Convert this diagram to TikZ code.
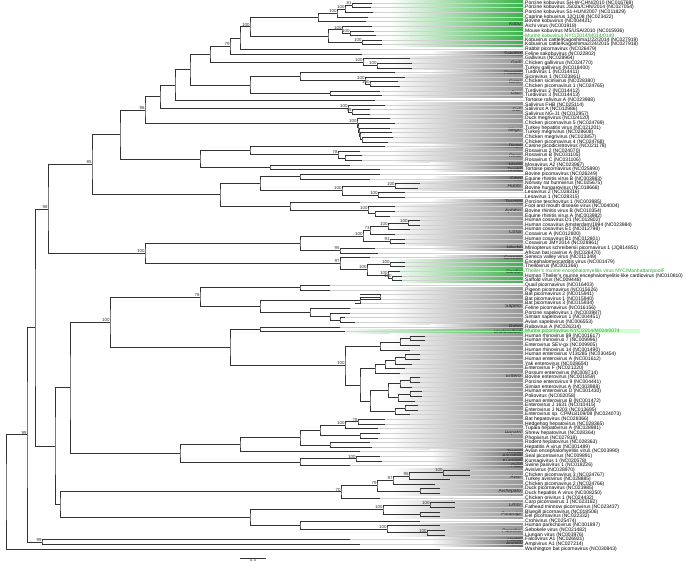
\documentclass[tikz,border=0pt]{standalone}
\usepackage{fontspec}
\setmainfont{Liberation Sans}
\usetikzlibrary{calc}
\definecolor{kobugreen}{RGB}{60,178,74}
\definecolor{labgreen}{RGB}{40,165,40}
\definecolor{bandgray}{RGB}{150,150,150}
\definecolor{bardark}{RGB}{105,105,105}

% clade: [bootstrap]{name}{x}{child a}{child b}
\newcommand\clade[5][]{%
  \path let \p1=($(#4)!.5!(#5)$) in (#3pt,\y1) coordinate (#2);
  \draw[br] (#4) -| (#2) |- (#5);
  \if\relax\detokenize{#1}\relax\else\node[bs] (b#2) at (#2) {#1};\fi}
% genus band: {first}{last}{left x}{colour}{name}
\newcommand\band[5]{%
  \shade[left color=white, right color=#4] (#3,#1-0.44) rectangle (523,#2+0.44);
  \node[gen] (g#5) at (521,{(#1+#2)/2}) {#5};}

\begin{document}
\begin{tikzpicture}[
    x=1pt, y=-4.625pt,
    br/.style={draw=black!80, line width=0.35pt},
    lead/.style={draw=black!18, line width=0.3pt},
    leaf/.style={anchor=west, inner sep=0pt, font=\fontsize{5}{4.6}\selectfont},
    bs/.style={anchor=south east, inner sep=0.3pt, font=\fontsize{4.4}{4.4}\selectfont, text=black!80},
    gen/.style={anchor=east, inner sep=0pt, font=\fontsize{5}{4.6}\selectfont\itshape, text=black!85}
]
\useasboundingbox (0,0.351) rectangle (696,123.38);

% genus bands
\band{1}{10}{390}{kobugreen}{Kobu}
\band{12}{12}{430}{bardark}{Sakobu}
\band{13}{15}{390}{bandgray}{Galli}
\band{16}{16}{430}{bardark}{Passeri}
\band{17}{19}{390}{bandgray}{Sicini}
\band{20}{21}{390}{bandgray}{Osci}
\band{23}{25}{390}{bandgray}{Sali}
\band{26}{31}{390}{bandgray}{Megri}
\band{32}{32}{430}{bardark}{Dicipi}
\band{33}{35}{390}{bandgray}{Rosa}
\band{36}{36}{430}{bardark}{Mosa}
\band{37}{37}{430}{bardark}{Torchi}
\band{39}{39}{430}{bardark}{Erbo}
\band{40}{41}{390}{bandgray}{Hunni}
\band{44}{44}{430}{bardark}{Tescho}
\band{45}{47}{390}{bandgray}{Aphtho}
\band{48}{53}{390}{bandgray}{Cosa}
\band{54}{54}{430}{bardark}{Mischi}
\band{56}{56}{430}{bardark}{Seneca}
\band{57}{61}{390}{kobugreen}{Cardio}
\band{63}{70}{390}{bandgray}{Sapelo}
\band{71}{71}{430}{bardark}{Rabo}
\band{72}{72}{340}{kobugreen}{Unclassified}
\fill[green!18] (523,71.56) rectangle (640,72.44);
\band{73}{90}{390}{bandgray}{Entero}
\band{91}{97}{390}{bandgray}{Hepato}
\band{98}{98}{430}{bardark}{Tremo}
\band{99}{99}{430}{bardark}{Aquama}
\band{100}{100}{430}{bardark}{Kunsagi}
\band{101}{101}{430}{bardark}{Pasi}
\band{102}{105}{390}{bandgray}{Avisi}
\band{106}{107}{390}{bandgray}{Avihepato}
\band{109}{110}{390}{bandgray}{Limni}
\band{111}{112}{390}{bandgray}{Potamipi}
\band{114}{116}{390}{bandgray}{Parecho}
\band{117}{117}{430}{bardark}{Harka}
\band{118}{118}{430}{bardark}{Ampivi}

% leaves: row/tip x/colour/name
\foreach \i/\t/\c/\l in {
  1/372/black/{Porcine kobuvirus SH-W-CHN/2010 (NC016769)},
  2/371/black/{Porcine kobuvirus JS02a/CHN/2014 (NC027054)},
  3/373/black/{Porcine kobuvirus S1-HUN/2007 (NC011829)},
  4/368/black/{Caprine kobuvirus 12Q108 (NC023422)},
  5/366/black/{Bovine kobuvirus (NC004421)},
  6/372/black/{Aichi virus (NC001918)},
  7/374/black/{Mouse kobuvirus M5/USA/2010 (NC015936)},
  8/376/labgreen/{Murine kobuvirus NYC/2014/M014/0149},
  9/382/black/{Kobuvirus cattle/Kagoshima1/22/2014 (NC027919)},
  10/382/black/{Kobuvirus cattle/Kagoshima2/24/2015 (NC027918)},
  11/360/black/{Rabbit picornavirus (NC026479)},
  12/362/black/{Feline sakobuvirus (NC022802)},
  13/410/black/{Gallivirus (NC028964)},
  14/412/black/{Chicken gallivirus (NC024770)},
  15/412/black/{Turkey gallivirus (NC018400)},
  16/395/black/{Turdivirus 1 (NC014411)},
  17/405/black/{Sicinivirus 1 (NC023861)},
  18/398/black/{Chicken sicinivirus (NC028380)},
  19/400/black/{Chicken picornavirus 1 (NC024765)},
  20/380/black/{Turdivirus 2 (NC014412)},
  21/382/black/{Turdivirus 3 (NC014413)},
  22/375/black/{Tortoise rafivirus A (NC023988)},
  23/385/black/{Salivirus FHB (NC025114)},
  24/370/black/{Salivirus A (NC012986)},
  25/370/black/{Salivirus NG-J1 (NC012957)},
  26/390/black/{Duck megrivirus (NC024120)},
  27/395/black/{Chicken picornavirus 5 (NC024769)},
  28/390/black/{Turkey hepatitis virus (NC021201)},
  29/392/black/{Turkey megrivirus (NC028608)},
  30/393/black/{Chicken megrivirus (NC023857)},
  31/388/black/{Chicken picornavirus 4 (NC024768)},
  32/385/black/{Canine picodicistrovirus (NC021178)},
  33/360/black/{Rosavirus 2 (NC024070)},
  34/362/black/{Rosavirus B (NC031105)},
  35/362/black/{Rosavirus C (NC031106)},
  36/350/black/{Mosavirus A2 (NC023987)},
  37/380/black/{Tortoise picornavirus (NC025890)},
  38/380/black/{Bovine picornavirus (NC026249)},
  39/370/black/{Equine rhinitis virus B (NC003983)},
  40/420/black/{Norway rat hunnivirus (NC025675)},
  41/418/black/{Bovine hungarovirus (NC018668)},
  42/405/black/{Lesavirus 2 (NC028316)},
  43/405/black/{Lesavirus 1 (NC028315)},
  44/360/black/{Porcine teschovirus 1 (NC003985)},
  45/395/black/{Foot and mouth disease virus (NC004004)},
  46/395/black/{Bovine rhinitis virus B (NC010354)},
  47/390/black/{Equine rhinitis virus A (NC003982)},
  48/420/black/{Human cosavirus D1 (NC012802)},
  49/420/black/{Human cosavirus Amsterdam/1994 (NC023984)},
  50/410/black/{Human cosavirus E1 (NC012798)},
  51/395/black/{Cosavirus A (NC012800)},
  52/405/black/{Human cosavirus B1 (NC012801)},
  53/405/black/{Cosavirus JMY2014 (NC028961)},
  54/375/black/{Miniopterus schreibersii picornavirus 1 (JQ814851)},
  55/378/black/{African bat icavirus A (NC026470)},
  56/370/black/{Seneca valley virus (NC011349)},
  57/405/black/{Encephalomyocarditis virus (NC001479)},
  58/405/black/{Theilovirus (NC001366)},
  59/400/labgreen/{Theiler's murine encephalomyelitis virus NYC/Manhattan/poolF},
  60/402/black/{Human Theiler's murine encephalomyelitis-like cardiovirus (NC010810)},
  61/402/black/{Saffold virus (NC009448)},
  62/330/black/{Quail picornavirus (NC016403)},
  63/330/black/{Pigeon picornavirus (NC015626)},
  64/360/black/{Bat picornavirus 2 (NC015941)},
  65/360/black/{Bat picornavirus 1 (NC015940)},
  66/355/black/{Bat picornavirus 3 (NC015934)},
  67/350/black/{Feline picornavirus (NC016156)},
  68/350/black/{Porcine sapelovirus 1 (NC003987)},
  69/345/black/{Simian sapelovirus 1 (NC004451)},
  70/355/black/{Avian sapelovirus (NC006553)},
  71/340/black/{Rabovirus A (NC026314)},
  72/345/labgreen/{Murine picornavirus NYC/2014/M004/0074},
  73/425/black/{Human rhinovirus 89 (NC001617)},
  74/425/black/{Human rhinovirus 7 (NC009996)},
  75/420/black/{Enterovirus SEV-gx (NC009905)},
  76/410/black/{Human rhinovirus 14 (NC001490)},
  77/420/black/{Human enterovirus V13t285 (NC030454)},
  78/420/black/{Human enterovirus A (NC001612)},
  79/412/black/{Yak enterovirus (NC028654)},
  80/405/black/{Enterovirus F (NC021220)},
  81/400/black/{Possum enterovirus (NC008714)},
  82/420/black/{Bovine enterovirus (NC001859)},
  83/420/black/{Porcine enterovirus 9 (NC004441)},
  84/412/black/{Simian enterovirus A (NC003988)},
  85/422/black/{Human enterovirus D (NC001430)},
  86/422/black/{Poliovirus (NC002058)},
  87/415/black/{Human enterovirus B (NC001472)},
  88/418/black/{Enterovirus J 1631 (NC010415)},
  89/418/black/{Enterovirus J N203 (NC013695)},
  90/410/black/{Enterovirus sp. CPML8109/08 (NC024073)},
  91/385/black/{Bat hepatovirus (NC028366)},
  92/385/black/{Hedgehog hepatovirus (NC028365)},
  93/378/black/{Tupaia hepatovirus A (NC028981)},
  94/380/black/{Shrew hepatovirus (NC028364)},
  95/378/black/{Phopivirus (NC027818)},
  96/370/black/{Rodent hepatovirus (NC028363)},
  97/372/black/{Hepatitis A virus (NC001489)},
  98/360/black/{Avian encephalomyelitis virus (NC003990)},
  99/380/black/{Seal picornavirus (NC009891)},
  100/382/black/{Kunsagivirus 1 (NC020578)},
  101/350/black/{Swine pasivirus 1 (NC018226)},
  102/470/black/{Avisivirus (NC028970)},
  103/470/black/{Chicken picornavirus 3 (NC024767)},
  104/450/black/{Turkey avisivirus (NC028885)},
  105/435/black/{Chicken picornavirus 2 (NC024766)},
  106/440/black/{Duck picornavirus (NC023985)},
  107/440/black/{Duck hepatitis A virus (NC008250)},
  108/380/black/{Chicken orivirus 1 (NC024432)},
  109/455/black/{Carp picornavirus 1 (NC023162)},
  110/455/black/{Fathead minnow picornavirus (NC023437)},
  111/440/black/{Bluegill picornavirus (NC018506)},
  112/440/black/{Eel picornavirus (NC022332)},
  113/420/black/{Crohivirus (NC025474)},
  114/440/black/{Human parechovirus (NC001897)},
  115/445/black/{Sebokele virus (NC021482)},
  116/445/black/{Ljungan virus (NC003976)},
  117/350/black/{Falcovirus A1 (NC026921)},
  118/360/black/{Ampivirus A1 (NC027214)},
  119/440/black/{Washington bat picornavirus (NC030843)}} {
  \coordinate (t\i) at (\t,\i);
  \node[leaf, text=\c] (l\i) at (525,\i) {\l};
  \draw[lead] (t\i) -- (l\i.west);
}

% kobu and neighbours
\clade[81]{k1}{352}{t1}{t2}
\clade[100]{k2}{345}{k1}{t3}
\clade[100]{k3}{337}{k2}{t4}
\clade{k4}{318}{k3}{t5}
\clade[100]{k5}{350}{t7}{t8}
\clade[100]{k6}{342}{t6}{k5}
\clade[100]{k7}{362}{t9}{t10}
\clade{k8}{328}{k6}{k7}
\clade[100]{k9}{250}{k4}{k8}
\clade{k10}{240}{k9}{t11}
\clade[79]{k11}{230}{k10}{t12}
\clade[100]{g1}{377}{t14}{t15}
\clade[100]{g2}{363}{t13}{g1}
\clade[100]{s1}{370}{t18}{t19}
\clade[100]{s2}{365}{t17}{s1}
\clade{s3}{300}{t16}{s2}
\clade{o1}{330}{t20}{t21}
\clade{u1}{210}{k11}{g2}
\clade{u2}{250}{s3}{o1}
\clade{u3}{190}{u1}{u2}
\clade{u4}{175}{u3}{t22}
\clade[99]{sa1}{352}{t24}{t25}
\clade[100]{sa2}{348}{t23}{sa1}
\clade{u5}{160}{u4}{sa2}
\clade{m1}{362}{t30}{t31}
\clade{m2}{360}{t29}{m1}
\clade{m3}{359}{t28}{m2}
\clade{m4}{358}{t27}{m3}
\clade[100]{m5}{357}{t26}{m4}
\clade[96]{u6}{145}{u5}{m5}
\clade{r1}{345}{t34}{t35}
\clade[78]{r2}{338}{t33}{r1}
\clade{u7}{250}{t32}{r2}
\clade{u8}{270}{t36}{t37}
\clade{u9}{200}{u7}{u8}
\clade{u10}{120}{u6}{u9}
\clade[100]{h1}{395}{t40}{t41}
\clade[100]{h2}{378}{t42}{t43}
\clade[100]{h3}{342}{h1}{h2}
\clade{e1}{300}{t38}{t39}
\clade{u11}{260}{e1}{h3}
\clade{a1}{375}{t46}{t47}
\clade[100]{a2}{368}{t45}{a1}
\clade{u12}{290}{t44}{a2}
\clade{u13}{220}{u11}{u12}
\clade[85]{u14}{92}{u10}{u13}
% cosa, cardio
\clade[100]{c1}{408}{t48}{t49}
\clade[100]{c2}{388}{c1}{t50}
\clade[73]{c3}{370}{c2}{t51}
\clade[91]{c4}{390}{t52}{t53}
\clade[100]{c5}{363}{c3}{c4}
\clade[95]{mi}{340}{t54}{t55}
\clade{u15}{300}{c5}{mi}
\clade[100]{cd1}{390}{t57}{t58}
\clade[100]{cd2}{392}{t60}{t61}
\clade[100]{cd3}{388}{t59}{cd2}
\clade[100]{cd4}{367}{cd1}{cd3}
\clade[97]{cd5}{340}{t56}{cd4}
\clade[100]{u16}{145}{u15}{cd5}
\clade[98]{u17}{48}{u14}{u16}
% sapelo, entero
\clade{q1}{300}{t62}{t63}
\clade{b1}{380}{t64}{t65}
\clade{b2}{360}{b1}{t66}
\clade{sp1}{340}{t69}{t70}
\clade{sp2}{330}{t68}{sp1}
\clade{sp3}{310}{t67}{sp2}
\clade{b3}{260}{b2}{sp3}
\clade[76]{b4}{200}{q1}{b3}
\clade{ra}{260}{t71}{t72}
\clade{en1}{410}{t73}{t74}
\clade{en2}{400}{en1}{t75}
\clade{en3}{380}{en2}{t76}
\clade{en4}{405}{t77}{t78}
\clade{en5}{395}{en4}{t79}
\clade{en6}{385}{en5}{t80}
\clade{en7}{375}{en6}{t81}
\clade{en8}{410}{t82}{t83}
\clade{en9}{400}{en8}{t84}
\clade{en10}{410}{t85}{t86}
\clade{en11}{398}{en10}{t87}
\clade{en12}{388}{en9}{en11}
\clade{en13}{405}{t88}{t89}
\clade{en14}{395}{en13}{t90}
\clade{en15}{370}{en12}{en14}
\clade{en16}{360}{en7}{en15}
\clade[100]{en17}{345}{en3}{en16}
\clade{u18}{230}{ra}{en17}
\clade[100]{u19}{110}{b4}{u18}
% hepato and lower groups
\clade[78]{hp1}{358}{t91}{t92}
\clade[100]{hp2}{345}{hp1}{t93}
\clade{hp3}{360}{t94}{t95}
\clade{hp4}{320}{hp2}{hp3}
\clade{hp5}{330}{t96}{t97}
\clade{hp6}{300}{hp4}{hp5}
\clade{u20}{240}{hp6}{t98}
\clade[100]{aq}{356}{t99}{t100}
\clade{u21}{300}{aq}{t101}
\clade{u22}{180}{u20}{u21}
\clade[100]{av1}{443}{t102}{t103}
\clade[95]{av2}{409}{av1}{t104}
\clade[97]{av3}{393}{av2}{t105}
\clade{ah}{420}{t106}{t107}
\clade[79]{av4}{377}{av3}{ah}
\clade[70]{av5}{341}{av4}{t108}
\clade[100]{li}{430}{t109}{t110}
\clade{po}{420}{t111}{t112}
\clade[100]{li2}{383}{li}{po}
\clade[100]{pa1}{427}{t115}{t116}
\clade[100]{pa2}{387}{t114}{pa1}
\clade{pa3}{300}{t113}{pa2}
\clade{u23}{250}{li2}{pa3}
\clade{u24}{60}{av5}{u23}
\clade{v1}{70}{u19}{u22}
\clade{v2}{55}{v1}{u24}
\clade{v3}{35}{u17}{v2}
\clade[99]{ha}{42}{t117}{t118}
\clade[99]{v4}{27}{v3}{ha}
\clade{root}{6}{v4}{t119}

% scale bar
\coordinate (sb1) at (240,121.0);
\coordinate (sb2) at (266,121.0);
\draw[br] (sb1) -- (sb2);
\node[bs, anchor=north] (sbl) at ($(sb1)!.5!(sb2)$) {0.4};
\end{tikzpicture}
\end{document}
